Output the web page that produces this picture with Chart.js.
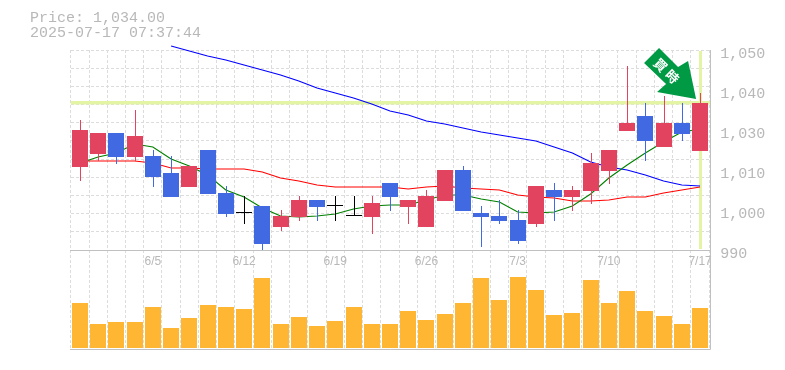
<!DOCTYPE html>
<html>
<head>
<meta charset="utf-8">
<style>
  html, body { margin: 0; padding: 0; background: #fff; }
  canvas { display: block; }
</style>
<script src="https://cdn.jsdelivr.net/npm/chart.js@4/dist/chart.umd.js"></script>
</head>
<body>
<canvas id="chart" width="785" height="370"></canvas>
<script>
var titleLines = ['Price: 1,034.00', '2025-07-17 07:37:44'];
var arrowText = ['買', '時'];

var dates = ['5/30','6/2','6/3','6/4','6/5','6/6','6/9','6/10','6/11','6/12','6/13','6/16','6/17','6/18','6/19','6/20','6/23','6/24','6/25','6/26','6/27','6/30','7/1','7/2','7/3','7/4','7/7','7/8','7/9','7/10','7/11','7/14','7/15','7/16','7/17'];

// candles
var opens  = [1021.5,1024.75,1030,1024,1024.25,1020,1016.5,1025.75,1015,1010,1011.75,1006.5,1009,1013.25,1011.75,1009.25,1009,1017.5,1011.5,1006.5,1013,1020.75,1010,1009.25,1008.25,1007.25,1015.75,1014,1015.5,1020.5,1030.5,1034.25,1026.5,1032.5,1025.5];
var closes = [1030.75,1030,1024,1029.25,1019,1014,1021.75,1014.75,1009.75,1010,1002.25,1009.25,1013.25,1011.5,1011.75,1009.25,1012.5,1014,1013.25,1014.25,1020.75,1010.5,1009,1008,1003,1016.75,1014,1015.75,1022.5,1025.75,1032.5,1028,1032.5,1029.75,1037.5];
var highs  = [1033.25,1030,1030,1035.75,1025.75,1024.25,1021.75,1025.75,1016.75,1014.25,1011.75,1010.75,1014.25,1013.25,1014.25,1014.25,1014.25,1017.5,1013.25,1015.75,1020.75,1021.75,1011.75,1013.25,1010.75,1016.75,1017.5,1016.75,1025,1025.75,1046.75,1037.5,1039.25,1037.5,1040];
var lows   = [1018,1023,1022.25,1023,1016.5,1014,1016.5,1014.75,1009,1007.25,1000.75,1005.5,1008,1008,1008,1009.25,1004.75,1010.5,1007.25,1006.5,1013,1010.5,1001.5,1007.25,1002.25,1006.5,1008,1010.5,1012.25,1017.25,1030.5,1023,1026.5,1028,1025.5];

var shortAvg = [1022.5,1024,1025,1027.25,1026.5,1023.5,1021.75,1019.5,1015.75,1014,1011.25,1009.25,1009,1009.25,1009.75,1011,1011.75,1012,1012,1013.25,1014.5,1014.5,1013.5,1012.75,1010.25,1010,1010.25,1011.75,1014.75,1018.75,1022,1025,1027.75,1030.25,1031];
var midAvg   = [1023,1023,1023,1023,1022.5,1021.25,1021.25,1021,1021,1021,1020.25,1018.75,1018,1017,1016.5,1016.5,1016.5,1016.5,1016,1016.5,1016.75,1016.25,1016,1015.75,1014.5,1014,1013.75,1013,1013,1013.25,1014,1014,1015,1015.75,1016.5];
var longAvg  = [null,null,null,null,null,1051.75,1050.5,1049.25,1048.25,1047,1045.75,1044.5,1043,1041.25,1040,1038.75,1037.25,1035.5,1034.5,1033,1032.25,1031.25,1030.25,1029.5,1028.75,1028,1026.5,1025,1022.75,1021.5,1020.75,1019.5,1018,1017,1016.75];

var volumes = [45,24,26,26,41,20,30,43,41,39,70,24,31,22,27,41,24,24,37,28,34,45,70,48,71,58,33,35,68,45,57,37,32,24,40];

var lastPrice = 1037.5;

// the picture's labels jump from 1,030 to 1,010 although the spacing stays even
var priceTickValues = [1050, 1040, 1030, 1020, 1010, 1000];
var priceTickLabels = ['1,050', '1,040', '1,030', '1,010', '1,000', '990'];

var priceMax = 1050.75;
var priceMin = 975.75;
var panelBottom = 1000.75;
var gridSteps = 11;

var UP = '#e2435f';
var DOWN = '#4169e1';
var FLAT = '#000000';
var MARK = '#e3f5a5';
var GRID = '#dcdcdc';
var FRAME = '#c0c0c0';
var TEXT = '#b8b8b8';

function candleColor(i) {
    if (closes[i] > opens[i]) return UP;
    if (closes[i] < opens[i]) return DOWN;
    return FLAT;
}

function pairs(a, b) {
    return a.map(function(v, i) { return [v, b[i]]; });
}

// keep bars on whole pixels so they stay as crisp as the original
var snapBars = {
    id: 'snapBars',
    afterDatasetsUpdate: function(chart) {
        chart.data.datasets.forEach(function(ds, d) {
            if (ds.type !== 'bar') return;
            chart.getDatasetMeta(d).data.forEach(function(bar) {
                bar.x = Math.round(bar.x) + (ds.barThickness === 1 ? 0.5 : 0);
                bar.y = Math.round(bar.y);
                bar.base = Math.round(bar.base);
                if (bar.base === bar.y) bar.base = bar.y + 1;
            });
        });
    }
};

var crossMarks = {
    id: 'crossMarks',
    beforeDatasetsDraw: function(chart) {
        var ctx = chart.ctx;
        var area = chart.chartArea;
        var y = chart.scales.price;
        var lastX = Math.round(chart.scales.x.getPixelForValue(dates.length - 1)) + 0.5;
        var top = y.getPixelForValue(priceMax) + 1;
        var bottom = y.getPixelForValue(panelBottom) - 1;
        ctx.save();
        ctx.fillStyle = MARK;
        ctx.fillRect(lastX - 1.5, top, 3, bottom - top);
        ctx.fillRect(area.left, y.getPixelForValue(lastPrice) - 2, area.right - area.left + 1, 3.5);
        ctx.restore();
    }
};

var frameAndText = {
    id: 'frameAndText',
    afterDatasetsDraw: function(chart) {
        var ctx = chart.ctx;
        var area = chart.chartArea;
        var y = chart.scales.price;
        var mid = Math.round(y.getPixelForValue(panelBottom)) + 0.5;
        var left = Math.floor(area.left);
        var right = Math.round(area.right) + 1.5;
        var bottom = Math.round(area.bottom) - 0.5;

        ctx.save();
        ctx.strokeStyle = FRAME;
        ctx.lineWidth = 1;
        ctx.beginPath();
        ctx.moveTo(left, mid); ctx.lineTo(right, mid);
        ctx.moveTo(left, bottom); ctx.lineTo(right, bottom);
        ctx.moveTo(right, area.top); ctx.lineTo(right, bottom);
        ctx.stroke();

        // arrow hangs off the high of the last candle
        var ax = chart.scales.x.getPixelForValue(dates.length - 1);
        var ay = y.getPixelForValue(highs[highs.length - 1]);
        var shape = [[-41,-45],[-56,-30],[-34,-9],[-43,-1],[-4,6],[-12,-32],[-22,-26]];
        ctx.fillStyle = '#009944';
        ctx.beginPath();
        shape.forEach(function(p, i) {
            if (i === 0) ctx.moveTo(ax + p[0], ay + p[1]);
            else ctx.lineTo(ax + p[0], ay + p[1]);
        });
        ctx.closePath();
        ctx.fill();

        ctx.fillStyle = '#ffffff';
        ctx.font = 'bold 13px "Noto Sans CJK JP"';
        ctx.textAlign = 'center';
        ctx.textBaseline = 'middle';
        arrowText.forEach(function(ch, i) {
            ctx.save();
            ctx.translate(ax - 39.5 + i * 11.7, ay - 28 + i * 11.7);
            ctx.rotate(Math.PI / 4);
            ctx.fillText(ch, 0, 0);
            ctx.restore();
        });

        ctx.fillStyle = TEXT;
        ctx.font = '15px "Liberation Mono"';
        ctx.textAlign = 'left';
        titleLines.forEach(function(line, i) {
            ctx.fillText(line, 30, 18 + i * 15);
        });
        ctx.restore();
    }
};

var ctx = document.getElementById('chart').getContext('2d');
var chart = new Chart(ctx, {
    type: 'bar',
    data: {
        labels: dates,
        datasets: [
            {
                type: 'bar',
                label: 'Volume',
                yAxisID: 'vol',
                data: volumes,
                backgroundColor: '#ffb733',
                barThickness: 16,
                order: 6
            },
            {
                type: 'line',
                label: 'Long average',
                yAxisID: 'price',
                data: longAvg,
                borderColor: '#0000ff',
                borderWidth: 1.1,
                pointRadius: 0,
                tension: 0,
                clip: false,
                order: 5
            },
            {
                type: 'line',
                label: 'Mid average',
                yAxisID: 'price',
                data: midAvg,
                borderColor: '#ff0000',
                borderWidth: 1.1,
                pointRadius: 0,
                tension: 0,
                order: 4
            },
            {
                type: 'line',
                label: 'Short average',
                yAxisID: 'price',
                data: shortAvg,
                borderColor: '#008000',
                borderWidth: 1.1,
                pointRadius: 0,
                tension: 0,
                order: 3
            },
            {
                type: 'bar',
                label: 'Range',
                yAxisID: 'price',
                data: pairs(lows, highs),
                backgroundColor: function(c) { return candleColor(c.dataIndex); },
                barThickness: 1,
                order: 2
            },
            {
                type: 'bar',
                label: 'Body',
                yAxisID: 'price',
                data: pairs(opens, closes),
                backgroundColor: function(c) { return candleColor(c.dataIndex); },
                barThickness: 16,
                minBarLength: 1,
                order: 1
            }
        ]
    },
    options: {
        responsive: false,
        animation: false,
        layout: { padding: { left: 70.78, top: 50, bottom: 20, right: 0 } },
        datasets: { bar: { grouped: false, inflateAmount: 0, borderWidth: 0 } },
        plugins: { legend: { display: false }, tooltip: { enabled: false }, title: { display: false } },
        scales: {
            x: {
                type: 'category',
                offset: true,
                position: { price: panelBottom },
                grid: { offset: true, color: GRID, drawTicks: false },
                border: { display: false, dash: [3, 2] },
                ticks: {
                    autoSkip: false,
                    maxRotation: 0,
                    padding: 4,
                    color: TEXT,
                    font: { family: '"Liberation Sans"', size: 12 },
                    callback: function(value, index) {
                        return (index + 1) % 5 === 0 ? dates[index] : '';
                    }
                }
            },
            price: {
                axis: 'y',
                type: 'linear',
                position: 'right',
                min: priceMin,
                max: priceMax,
                grid: { display: false, drawTicks: false },
                border: { display: false },
                afterBuildTicks: function(axis) {
                    axis.ticks = priceTickValues.map(function(v) { return { value: v }; });
                },
                afterFit: function(axis) { axis.width = 75.82; },
                ticks: {
                    autoSkip: false,
                    padding: 11,
                    labelOffset: 1,
                    color: TEXT,
                    font: { family: '"Liberation Mono"', size: 15 },
                    callback: function(value, index) { return priceTickLabels[index]; }
                }
            },
            gridY: {
                axis: 'y',
                type: 'linear',
                position: 'left',
                min: priceMin,
                max: priceMax,
                grid: { color: GRID, drawTicks: false },
                border: { display: false, dash: [3, 2] },
                ticks: { display: false },
                afterFit: function(axis) { axis.width = 0; },
                afterBuildTicks: function(axis) {
                    var ticks = [];
                    for (var i = 0; i < gridSteps; i++) {
                        ticks.push({ value: priceMax - i * (priceMax - panelBottom) / gridSteps });
                    }
                    axis.ticks = ticks;
                }
            },
            vol: {
                axis: 'y',
                type: 'linear',
                display: false,
                min: -2,
                max: 298
            }
        }
    },
    plugins: [snapBars, crossMarks, frameAndText]
});
</script>
</body>
</html>
